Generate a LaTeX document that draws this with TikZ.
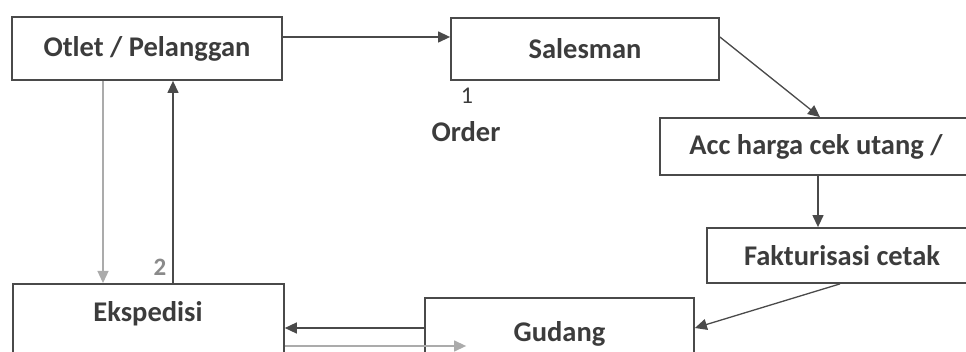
\documentclass[tikz,border=0pt]{standalone}
\usepackage{fontspec}
\setmainfont{Carlito}
\usetikzlibrary{arrows.meta}
\definecolor{ink}{HTML}{3C3C3C}
\definecolor{linedark}{HTML}{4A4A4A}
\definecolor{linelight}{HTML}{ABABAB}
\definecolor{numgray}{HTML}{8A8A8A}
\begin{document}
\begin{tikzpicture}[x=1pt,y=-1pt,
  box/.style={draw=linedark, line width=1.8pt, fill=white, inner sep=0pt, text=ink,
    font=\fontsize{28.5}{34}\selectfont\bfseries},
  lbl/.style={inner sep=0pt, text=ink, font=\fontsize{28.5}{34}\selectfont\bfseries},
  arrd/.style={draw=linedark, line width=1.3pt, -{Triangle[length=12pt,width=11pt]}},
  arrl/.style={draw=linelight, line width=1.3pt, -{Triangle[length=12pt,width=11pt]}}]
\useasboundingbox (0,0) rectangle (966,352);
\fill[white] (0,0) rectangle (966,352);
\begin{scope}
\clip (0,0) rectangle (966,352);
% boxes
\node[box, minimum width=270pt, minimum height=63pt] (otlet) at (147,48.5) {Otlet / Pelanggan};
\node[box, minimum width=268pt, minimum height=62pt] (sales) at (585,49) {Salesman};
\node[box, minimum width=312pt, minimum height=57pt] (acc) at (816,146.5) {Acc harga cek utang /};
\node[box, minimum width=270pt, minimum height=55pt] (fakt) at (842,255.5) {Fakturisasi cetak};
\node[box, minimum width=269pt, minimum height=72pt] (gud) at (559.5,334) {Gudang};
\node[box, minimum width=271pt, minimum height=90pt, anchor=north west] (eks) at (12,283) {};
\node[lbl] (ekst) at (148,314) {Ekspedisi};
% labels
\node[inner sep=0pt, text=ink, font=\fontsize{24}{28}\selectfont] (n1) at (467,96) {1};
\node[lbl] (order) at (466,132) {Order};
\node[inner sep=0pt, text=numgray, font=\fontsize{25}{28}\selectfont\bfseries] (n2) at (160,267) {2};
% connectors
\draw[arrd] ([yshift=11.5pt]otlet.east) -- ([yshift=11.5pt]otlet.east -| sales.west);
\draw[arrd] ([yshift=12pt]sales.east) -- ([xshift=4pt]acc.north);
\draw[arrd] ([xshift=2pt]acc.south) -- ([xshift=2pt]acc.south |- fakt.north);
\draw[arrd] ([xshift=-2pt]fakt.south) -- ([yshift=6pt]gud.east);
\draw[arrd] ([yshift=6pt]gud.west) -- ([yshift=6pt]gud.west -| eks.east);
\draw[arrl] ([yshift=-12pt]gud.west -| eks.east) -- ([xshift=42pt,yshift=-12pt]gud.west);
\draw[arrl] ([xshift=-44pt]otlet.south) -- ([xshift=-44pt]otlet.south |- eks.north);
\draw[arrd] ([xshift=26pt]otlet.south |- eks.north) -- ([xshift=26pt]otlet.south);
\end{scope}
\end{tikzpicture}
\end{document}
